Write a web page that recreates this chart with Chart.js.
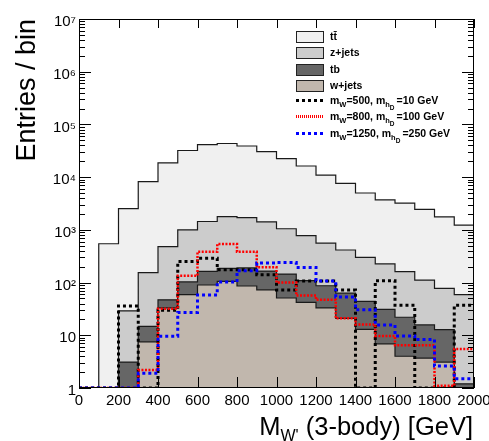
<!DOCTYPE html>
<html>
<head>
<meta charset="utf-8">
<script src="https://cdn.jsdelivr.net/npm/chart.js@4.4.1/dist/chart.umd.min.js"></script>
<style>
  html, body { margin: 0; padding: 0; background: #fff; }
  #wrap { position: relative; width: 489px; height: 441px; font-family: "Liberation Sans", Arial, sans-serif; color: #000; }
  #wrap canvas { position: absolute; left: 0; top: 0; }
  .row { position: absolute; left: 296px; height: 16px; width: 180px; }
  .box { position: absolute; left: 0; top: 2px; width: 26px; height: 10px; border: 1px solid #222; }
  .dots { position: absolute; left: 0; top: 6px; width: 28px; height: 3px; }
  .txt { position: absolute; left: 34px; top: 0; font-size: 10.5px; font-weight: bold; line-height: 14px; white-space: nowrap; }
  .txt sub { font-size: 7.5px; vertical-align: -3px; line-height: 0; }
  .txt sub sub { font-size: 6.5px; vertical-align: -3px; }
  .txt .gap { margin-right: 2px; }
  #xtitle { position: absolute; right: 16px; top: 413px; font-size: 25.5px; line-height: 26px; white-space: nowrap; }
  #xtitle sub { font-size: 16px; vertical-align: -6px; line-height: 0; }
</style>
</head>
<body>
<div id="wrap">
  <canvas id="histChart" width="489" height="441"></canvas>
  <div class="row" style="top:29px"><span class="box" style="background:#f0f0f0"></span><span class="txt">tt&#772;</span></div>
  <div class="row" style="top:45px"><span class="box" style="background:#cccccc"></span><span class="txt">z+jets</span></div>
  <div class="row" style="top:62px"><span class="box" style="background:#666666"></span><span class="txt">tb</span></div>
  <div class="row" style="top:78px"><span class="box" style="background:#c1b7ad"></span><span class="txt">w+jets</span></div>
  <div class="row" style="top:93px"><span class="dots" style="background:repeating-linear-gradient(to right,#000 0 3px,transparent 3px 6px)"></span><span class="txt">m<sub>W</sub>=500, m<sub class="gap">h<sub>D</sub></sub>=10 GeV</span></div>
  <div class="row" style="top:109px"><span class="dots" style="background:repeating-linear-gradient(to right,#f00 0 1px,transparent 1px 2px)"></span><span class="txt">m<sub>W</sub>=800, m<sub class="gap">h<sub>D</sub></sub>=100 GeV</span></div>
  <div class="row" style="top:126px"><span class="dots" style="background:repeating-linear-gradient(to right,#00f 0 3px,transparent 3px 6px)"></span><span class="txt">m<sub>W</sub>=1250, m<sub class="gap">h<sub>D</sub></sub>=250 GeV</span></div>
  <div id="xtitle">M<sub>W'</sub> (3-body) [GeV]</div>
</div>
<script>
// bin low edges, 100 GeV bins
const binLow = [0, 100, 200, 300, 400, 500, 600, 700, 800, 900,
                1000, 1100, 1200, 1300, 1400, 1500, 1600, 1700, 1800, 1900];
const xMax = 2000;

// background contributions per bin (stacked: wjets, tb, zjets, ttbar)
const ttbar = [0, 545, 2500, 8050, 18100, 31000, 40000, 41700, 37300, 29100,
               21400, 15500, 10400, 7200, 4700, 3480, 3040, 2340, 1690, 1170];
const zjets = [0, 0, 26, 140, 433, 897, 1277, 1604, 1510, 1255,
               905, 671, 473, 352, 256, 195, 140, 96, 65, 58];
const tb    = [0, 0, 3.1, 7.3, 14, 44, 73, 81, 104, 92,
               94, 67, 54, 42, 31, 24, 18, 12, 9.7, 1.2];
const wjets = [0, 0, 0, 7.5, 33, 59, 90, 105, 86, 73,
               51, 42, 33, 21, 13, 6.9, 4.0, 3.7, 3.1, 0];

// signal samples
const sig500  = [0, 0, 36, 0, 30, 250, 290, 176, 176, 141,
                 72, 107, 107, 72, 0, 108, 37, 0, 0, 37];
const sig800  = [0, 0, 0, 2.2, 32, 135, 385, 540, 385, 195,
                 100, 57, 47, 21, 16, 9.7, 6.5, 6.5, 1.1, 5.5];
const sig1250 = [0, 0, 0, 1.9, 9.6, 27, 58, 102, 168, 235,
                 240, 194, 107, 53, 30.5, 15.7, 9.7, 8.3, 2.6, 1.5];

const yTickLabels = ['1', '10', '10\u00b2', '10\u00b3', '10\u2074', '10\u2075', '10\u2076', '10\u2077'];

const yMin = 1, yMax = 1e7;

function cumulate(...series) {
  return binLow.map((_, i) => series.reduce((s, a) => s + a[i], 0));
}

// empty bins sit on the axis floor
function stepPoints(vals) {
  const pts = binLow.map((x, i) => ({ x: x, y: Math.max(vals[i], yMin) }));
  pts.push({ x: xMax, y: Math.max(vals[vals.length - 1], yMin) });
  return pts;
}

function hist(label, vals, color, order) {
  return {
    label: label,
    data: stepPoints(vals),
    stepped: true,
    fill: 'start',
    backgroundColor: color,
    borderColor: '#1a1a1a',
    borderWidth: 1.2,
    pointRadius: 0,
    order: order
  };
}

function signal(label, vals, color, dash, width, order) {
  return {
    label: label,
    data: stepPoints(vals),
    stepped: true,
    fill: false,
    borderColor: color,
    borderWidth: width,
    borderDash: dash,
    pointRadius: 0,
    order: order
  };
}

// ROOT style frame with inward ticks on all four sides
const frameTicks = {
  id: 'frameTicks',
  afterDatasetsDraw(chart) {
    const { ctx, chartArea: a, scales: { x, y } } = chart;
    ctx.save();
    ctx.strokeStyle = '#000';
    ctx.lineWidth = 1;
    ctx.beginPath();
    for (let v = 0; v <= xMax; v += 200) {
      const px = Math.round(x.getPixelForValue(v)) + 0.5;
      ctx.moveTo(px, a.bottom); ctx.lineTo(px, a.bottom - 11);
      ctx.moveTo(px, a.top); ctx.lineTo(px, a.top + 9);
    }
    for (let e = 0; e < 7; e++) {
      for (let m = 1; m < 10; m++) {
        const py = Math.round(y.getPixelForValue(m * Math.pow(10, e))) + 0.5;
        const len = m === 1 ? 12 : 6;
        ctx.moveTo(a.left, py); ctx.lineTo(a.left + len, py);
        ctx.moveTo(a.right, py); ctx.lineTo(a.right - len, py);
      }
    }
    ctx.stroke();
    ctx.strokeRect(Math.round(a.left) + 0.5, Math.round(a.top) + 0.5,
                   Math.round(a.width) - 1, Math.round(a.height) - 1);
    ctx.restore();
  }
};

Chart.defaults.font.family = '"Liberation Sans", Arial, sans-serif';
Chart.defaults.color = '#000';

const ctx = document.getElementById('histChart').getContext('2d');
new Chart(ctx, {
  type: 'line',
  data: {
    datasets: [
      hist('ttbar', cumulate(wjets, tb, zjets, ttbar), '#f0f0f0', 6),
      hist('z+jets', cumulate(wjets, tb, zjets), '#cccccc', 5),
      hist('tb', cumulate(wjets, tb), '#666666', 4),
      hist('w+jets', wjets, '#c1b7ad', 3),
      signal('mW=500', sig500, '#000000', [3, 3], 3, 2),
      signal('mW=800', sig800, '#ff0000', [2, 1.5], 2.5, 1),
      signal('mW=1250', sig1250, '#0000ff', [3, 3], 3, 0)
    ]
  },
  options: {
    responsive: false,
    animation: false,
    layout: { padding: { top: 19, right: 15, left: 0, bottom: 0 } },
    plugins: {
      legend: { display: false },
      tooltip: { enabled: false }
    },
    scales: {
      x: {
        type: 'linear',
        min: 0,
        max: xMax,
        grid: { display: false, drawTicks: false },
        border: { display: false },
        ticks: {
          stepSize: 200, autoSkip: false, maxRotation: 0, padding: 4,
          font: { size: 15 },
          callback: v => String(v)
        },
        afterFit: s => { s.height = 53; s.paddingLeft = 0; s.paddingRight = 0; }
      },
      y: {
        type: 'logarithmic',
        min: yMin,
        max: yMax,
        grid: { display: false, drawTicks: false },
        border: { display: false },
        ticks: {
          autoSkip: false,
          padding: 3,
          labelOffset: 3,
          font: { size: 15 },
          callback: v => {
            const e = Math.log10(v);
            if (Math.abs(e - Math.round(e)) > 1e-9) return null;
            return yTickLabels[Math.round(e)];
          }
        },
        title: {
          display: true,
          text: 'Entries / bin',
          align: 'end',
          font: { size: 27 },
          padding: { top: 11, bottom: 0 }
        },
        afterFit: s => { s.width = 79; s.paddingTop = 0; s.paddingBottom = 0; }
      }
    }
  },
  plugins: [frameTicks]
});
</script>
</body>
</html>
